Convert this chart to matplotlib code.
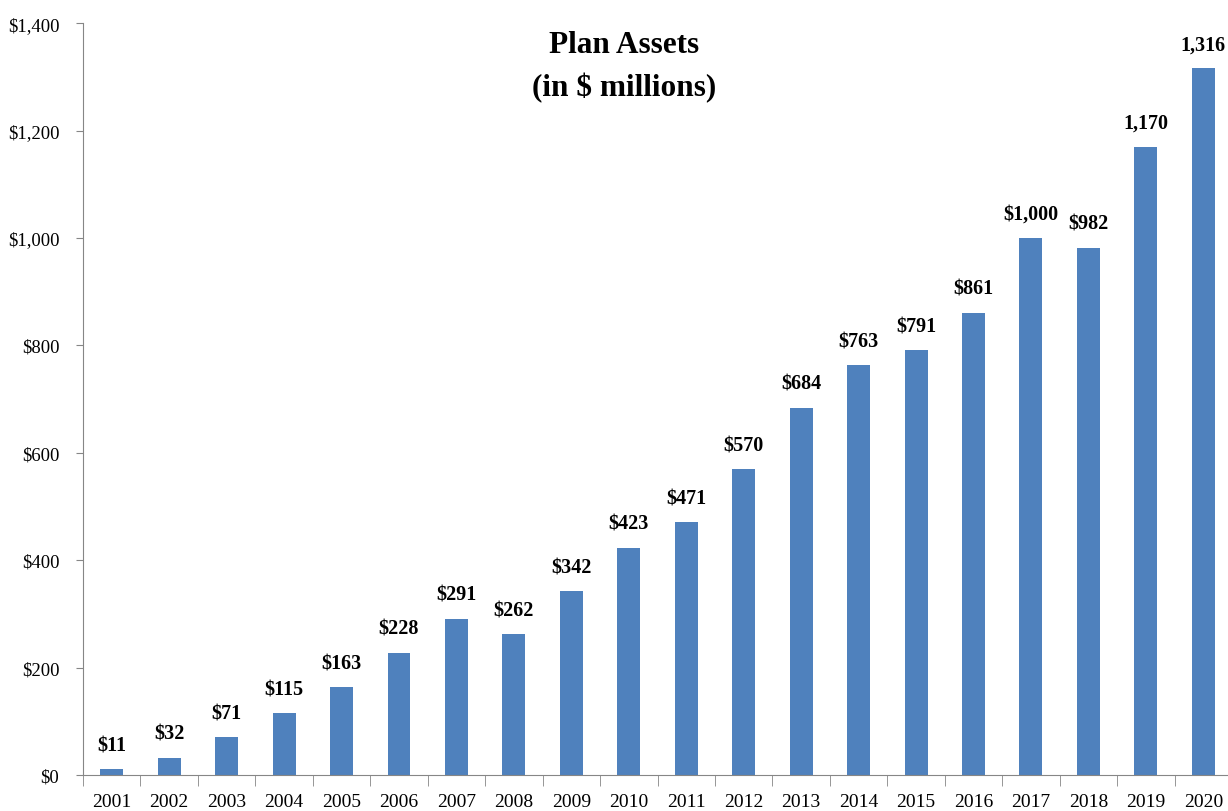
import numpy as np
import matplotlib.pyplot as plt
from matplotlib.ticker import FuncFormatter, FixedLocator

years = ['2001', '2002', '2003', '2004', '2005', '2006', '2007', '2008', '2009', '2010',
         '2011', '2012', '2013', '2014', '2015', '2016', '2017', '2018', '2019', '2020']
assets = [11, 32, 71, 115, 163, 228, 291, 262, 342, 423,
          471, 570, 684, 763, 791, 861, 1000, 982, 1170, 1316]
bar_labels = ['$11', '$32', '$71', '$115', '$163', '$228', '$291', '$262', '$342', '$423',
              '$471', '$570', '$684', '$763', '$791', '$861', '$1,000', '$982', '1,170', '1,316']

plt.rcParams['font.family'] = ['Liberation Serif', 'DejaVu Serif']

fig = plt.figure(figsize=(12.28, 8.12), dpi=100)
ax = fig.add_axes([0.0676, 0.0443, 0.9357, 0.926])

x = np.arange(len(years))
bars = ax.bar(x, assets, width=0.4, color='#4F81BD', zorder=2)

for rect, lab in zip(bars, bar_labels):
    ax.annotate(lab, (rect.get_x() + rect.get_width() / 2, rect.get_height()),
                xytext=(0, 10), textcoords='offset points', ha='center', va='bottom',
                fontsize=14.5, fontweight='bold')

ax.set_xlim(-0.5, len(years) - 0.5)
ax.set_ylim(0, 1400)
ax.set_yticks(np.arange(0, 1401, 200))
ax.yaxis.set_major_formatter(FuncFormatter(lambda v, p: f'${v:,.0f}'))

ax.set_xticks(x)
ax.set_xticklabels(years)
ax.xaxis.set_minor_locator(FixedLocator(np.arange(-0.5, len(years), 1)))
ax.tick_params(axis='x', which='major', length=0, pad=13, labelsize=14)
ax.tick_params(axis='x', which='minor', length=8, color='#868686', direction='out')
ax.tick_params(axis='y', length=5, color='#868686', labelsize=13.5, pad=12)

for s in ['top', 'right']:
    ax.spines[s].set_visible(False)
for s in ['left', 'bottom']:
    ax.spines[s].set_color('#868686')

fig.text(0.508, 0.962, 'Plan Assets\n(in $ millions)', ha='center', va='top',
         fontsize=22.5, fontweight='bold', linespacing=1.55)

plt.savefig('out.png', dpi=100)
